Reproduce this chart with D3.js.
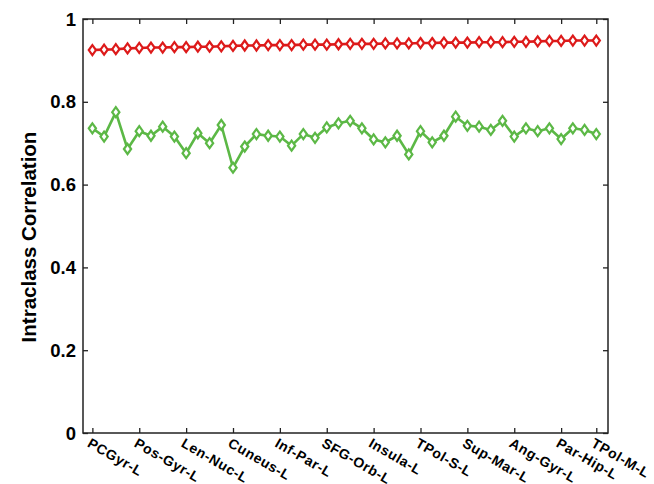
<!DOCTYPE html>
<html>
<head>
<meta charset="utf-8">
<script src="https://cdn.jsdelivr.net/npm/d3@7"></script>
<style>
  html, body { margin: 0; padding: 0; background: #fff; }
  svg { display: block; }
  text { font-family: "Liberation Sans", Arial, sans-serif; font-weight: bold; fill: #000; }
</style>
</head>
<body>
<svg id="chart" width="654" height="484"></svg>
<script>
// ---- data ----
const regionIndex = d3.range(1, 45);
const xTickIndex = [1, 5, 9, 13, 17, 21, 25, 29, 33, 37, 41, 44];
const xTickLabels = ["PCGyr-L", "Pos-Gyr-L", "Len-Nuc-L", "Cuneus-L", "Inf-Par-L", "SFG-Orb-L",
                     "Insula-L", "TPol-S-L", "Sup-Mar-L", "Ang-Gyr-L", "Par-Hip-L", "TPol-M-L"];
const yTicks = [0, 0.2, 0.4, 0.6, 0.8, 1];
const yTickLabels = ["0", "0.2", "0.4", "0.6", "0.8", "1"];
const redValues = [0.925, 0.926, 0.927, 0.929, 0.930, 0.931, 0.931, 0.932, 0.932, 0.933,
                   0.933, 0.934, 0.935, 0.936, 0.936, 0.937, 0.937, 0.937, 0.938, 0.938,
                   0.938, 0.939, 0.940, 0.940, 0.940, 0.941, 0.941, 0.941, 0.942, 0.942,
                   0.943, 0.943, 0.943, 0.944, 0.944, 0.944, 0.945, 0.945, 0.946, 0.947,
                   0.947, 0.948, 0.948, 0.948];
const greenValues = [0.736, 0.716, 0.775, 0.686, 0.729, 0.718, 0.740, 0.716, 0.676, 0.724,
                     0.700, 0.744, 0.641, 0.692, 0.722, 0.718, 0.716, 0.694, 0.722, 0.713,
                     0.738, 0.748, 0.754, 0.736, 0.709, 0.702, 0.718, 0.673, 0.729, 0.702,
                     0.718, 0.764, 0.742, 0.740, 0.732, 0.754, 0.716, 0.736, 0.729, 0.736,
                     0.710, 0.736, 0.732, 0.722];

// ---- layout ----
const L = 83, R = 608, T = 19, B = 433;
const svg = d3.select("#chart");
const x = d3.scaleLinear().domain([0.2, 45]).range([L, R]);
const y = d3.scaleLinear().domain([0, 1]).range([B, T]);

const axisColor = "#222";
const tickLen = 5;

const bottomAxis = d3.axisBottom(x).tickValues(xTickIndex).tickSizeInner(-tickLen).tickSizeOuter(0).tickFormat("");
const gB = svg.append("g").attr("transform", `translate(0,${B})`).call(bottomAxis);
const topAxis = d3.axisTop(x).tickValues(xTickIndex).tickSizeInner(-tickLen).tickSizeOuter(0).tickFormat("");
const gT = svg.append("g").attr("transform", `translate(0,${T})`).call(topAxis);
const leftAxis = d3.axisLeft(y).tickValues(yTicks).tickSizeInner(-tickLen).tickSizeOuter(0).tickFormat("");
const gL = svg.append("g").attr("transform", `translate(${L},0)`).call(leftAxis);
const rightAxis = d3.axisRight(y).tickValues(yTicks).tickSizeInner(-tickLen).tickSizeOuter(0).tickFormat("");
const gR = svg.append("g").attr("transform", `translate(${R},0)`).call(rightAxis);

[gB, gT, gL, gR].forEach(g => {
  g.select(".domain").remove();
  g.selectAll(".tick line").attr("stroke", axisColor).attr("stroke-width", 1.3);
});

svg.append("rect").attr("x", L).attr("y", T).attr("width", R - L).attr("height", B - T)
  .attr("fill", "none").attr("stroke", axisColor).attr("stroke-width", 1.5);

svg.append("g").selectAll("text").data(yTicks).join("text")
  .attr("x", L - 7).attr("y", d => y(d)).attr("dy", "0.36em")
  .attr("text-anchor", "end").attr("font-size", 18.5)
  .text((d, i) => yTickLabels[i]);

svg.append("g").selectAll("text").data(xTickIndex).join("text")
  .attr("transform", d => `translate(${x(d) - 6},${B + 13}) rotate(30)`)
  .attr("text-anchor", "start").attr("font-size", 14).attr("letter-spacing", 0.6)
  .text((d, i) => xTickLabels[i]);

svg.append("text")
  .attr("transform", `translate(36,237) rotate(-90)`)
  .attr("text-anchor", "middle").attr("font-size", 20.5)
  .text("Intraclass Correlation");

const diamond = "M0,-5L3.6,0L0,5L-3.6,0Z";
function drawSeries(values, color) {
  const line = d3.line().x((d, i) => x(regionIndex[i])).y(d => y(d));
  svg.append("path").datum(values).attr("d", line)
    .attr("fill", "none").attr("stroke", color).attr("stroke-width", 2.6)
    .attr("stroke-linejoin", "round");
  svg.append("g").selectAll("path").data(values).join("path")
    .attr("transform", (d, i) => `translate(${x(regionIndex[i])},${y(d)})`)
    .attr("d", diamond)
    .attr("fill", "#fff").attr("stroke", color).attr("stroke-width", 2.2);
}
drawSeries(greenValues, "#5cb846");
drawSeries(redValues, "#dd1a1a");
</script>
</body>
</html>
